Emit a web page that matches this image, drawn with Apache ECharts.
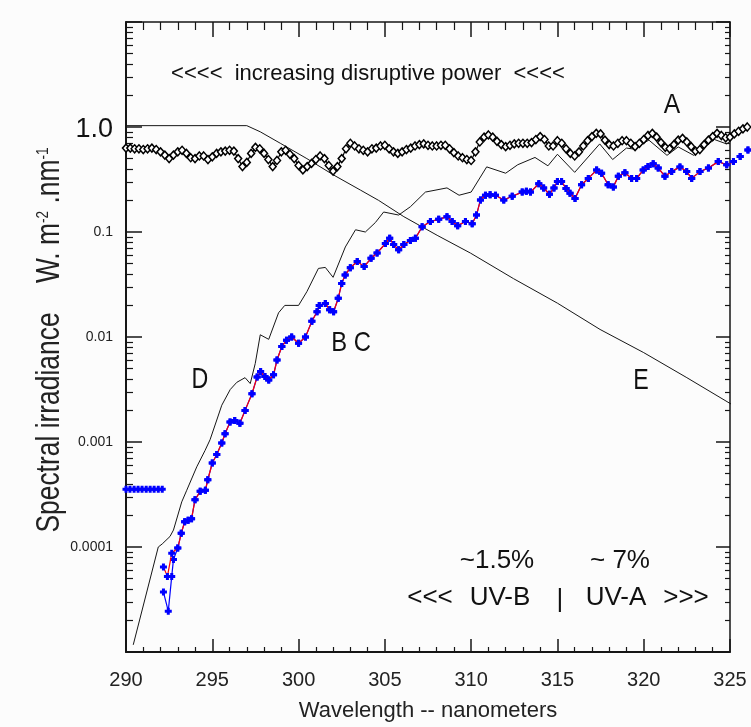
<!DOCTYPE html>
<html>
<head>
<meta charset="utf-8">
<script src="https://cdn.jsdelivr.net/npm/echarts@6/dist/echarts.min.js"></script>
<style>
  html, body { margin: 0; padding: 0; background: #fcfcfc; }
  #chart { width: 751px; height: 727px; }
</style>
</head>
<body>
<div id="chart"></div>
<script>
// ---- axes ----
const xMin = 290, xMax = 325, xStep = 5;           // wavelength, nm
const yMin = 1e-5, yMax = 10;                      // irradiance, log scale
const yTickLabels = { '-4': '0.0001', '-3': '0.001', '-2': '0.01', '-1': '0.1', '0': '1.0' };

// ---- A : extraterrestrial spectrum (diamond markers) ----
const curveA = [
  [290.00,0.63],[290.25,0.63],[290.50,0.62],[290.75,0.62],[291.00,0.61],[291.25,0.62],[291.50,0.63],[291.75,0.61],
  [292.00,0.58],[292.25,0.54],[292.50,0.50],[292.75,0.54],[293.00,0.58],[293.25,0.60],[293.50,0.56],[293.75,0.51],
  [294.00,0.50],[294.25,0.53],[294.50,0.53],[294.75,0.49],[295.00,0.52],[295.25,0.56],[295.50,0.58],[295.75,0.59],
  [296.00,0.60],[296.25,0.59],[296.50,0.50],[296.75,0.42],[297.00,0.46],[297.25,0.56],[297.50,0.64],[297.75,0.62],
  [298.00,0.56],[298.25,0.49],[298.50,0.42],[298.75,0.48],[299.00,0.58],[299.25,0.60],[299.50,0.55],[299.75,0.50],
  [300.00,0.43],[300.25,0.39],[300.50,0.42],[300.75,0.45],[301.00,0.49],[301.25,0.53],[301.50,0.50],[301.75,0.43],
  [302.00,0.38],[302.25,0.42],[302.50,0.50],[302.75,0.62],[303.00,0.70],[303.25,0.66],[303.50,0.62],[303.75,0.60],
  [304.00,0.58],[304.25,0.62],[304.50,0.63],[304.75,0.66],[305.00,0.67],[305.25,0.62],[305.50,0.58],[305.75,0.56],
  [306.00,0.58],[306.25,0.61],[306.50,0.63],[306.75,0.66],[307.00,0.68],[307.25,0.69],[307.50,0.67],[307.75,0.66],
  [308.00,0.66],[308.25,0.67],[308.50,0.67],[308.75,0.62],[309.00,0.57],[309.25,0.53],[309.50,0.51],[309.75,0.49],
  [310.00,0.48],[310.25,0.58],[310.50,0.72],[310.75,0.80],[311.00,0.84],[311.25,0.80],[311.50,0.73],[311.75,0.68],
  [312.00,0.65],[312.25,0.67],[312.50,0.69],[312.75,0.70],[313.00,0.70],[313.25,0.70],[313.50,0.71],[313.75,0.76],
  [314.00,0.81],[314.25,0.76],[314.50,0.66],[314.75,0.66],[315.00,0.74],[315.25,0.70],[315.50,0.62],[315.75,0.56],
  [316.00,0.53],[316.25,0.58],[316.50,0.66],[316.75,0.74],[317.00,0.81],[317.25,0.87],[317.50,0.86],[317.75,0.75],
  [318.00,0.68],[318.25,0.66],[318.50,0.70],[318.75,0.74],[319.00,0.74],[319.25,0.70],[319.50,0.65],[319.75,0.70],
  [320.00,0.76],[320.25,0.83],[320.50,0.87],[320.75,0.80],[321.00,0.71],[321.25,0.64],[321.50,0.62],[321.75,0.68],
  [322.00,0.75],[322.25,0.78],[322.50,0.72],[322.75,0.65],[323.00,0.59],[323.25,0.61],[323.50,0.68],[323.75,0.75],
  [324.00,0.81],[324.25,0.87],[324.50,0.83],[324.75,0.79],[325.00,0.80],[325.25,0.86],[325.50,0.91],[325.75,0.96],
  [326.00,1.00]
];

// ---- D : thin black spectrum ----
const curveD = [
  [290.42,1.17e-5],[291.87,1.0e-4],[292.1,1.07e-4],[292.55,1.26e-4],[292.75,1.45e-4],[293.23,2.69e-4],
  [293.52,3.47e-4],[294.1,5.8e-4],[294.58,8.3e-4],[294.87,1.05e-3],[295.26,1.62e-3],[295.55,2.24e-3],
  [296.04,3.16e-3],[296.42,3.7e-3],[296.9,4.1e-3],[297.2,3.6e-3],[297.49,5.6e-3],[297.78,0.0105],
  [298.27,0.0095],[298.84,0.017],[299.2,0.020],[300.0,0.020],[300.48,0.027],[301.15,0.045],[301.55,0.046],
  [302.0,0.037],[302.71,0.072],[303.3,0.105],[303.87,0.100],[304.45,0.123],[304.93,0.155],[305.8,0.145],
  [306.48,0.174],[307.35,0.24],[308.6,0.263],[309.3,0.224],[310.0,0.24],[310.9,0.417],[312.0,0.363],
  [312.7,0.437],[313.7,0.513],[314.45,0.427],[315.0,0.55],[316.0,0.37],[317.45,0.69],[318.2,0.49],
  [319.0,0.63],[319.4,0.617],[320.3,0.75],[321.35,0.537],[322.0,0.646],[322.9,0.537],[324.1,0.76],
  [324.8,0.69],[326.05,1.0]
];

// ---- E : action spectrum (straight black line) ----
const curveE = [
  [290,1.03],[297.0,1.03],[297.78,0.90],[298.94,0.70],[300.48,0.50],[302.03,0.349],[303.58,0.251],
  [304.64,0.20],[306.1,0.14],[308.03,0.093],[309.96,0.063],[312.45,0.036],[315,0.021],[317.47,0.0118],
  [320,0.0071],[322.5,0.0041],[325.46,0.0021],[325.9,0.0019]
];

// ---- B (blue) and C (red) : they share everything above 293 nm ----
const curveBStart = [[292.17,3.72e-5],[292.45,2.45e-5],[292.65,5.25e-5],[292.75,7.59e-5]];
const curveCStart = [[292.17,6.46e-5],[292.4,5.25e-5],[292.65,8.71e-5]];
const curveBC = [
  [293.0,9.77e-5],[293.2,1.35e-4],[293.4,1.74e-4],[293.6,1.80e-4],[293.8,1.86e-4],[294.0,2.82e-4],
  [294.3,3.39e-4],[294.6,3.47e-4],[294.74,4.37e-4],[295.0,6.31e-4],[295.26,7.59e-4],[295.55,9.77e-4],
  [295.74,1.2e-3],[296.03,1.55e-3],[296.3,1.6e-3],[296.6,1.51e-3],[296.9,2.0e-3],[297.3,2.88e-3],
  [297.6,4.17e-3],[297.8,4.68e-3],[298.05,4.2e-3],[298.27,3.89e-3],[298.55,4.37e-3],[298.75,6.03e-3],
  [299.03,8.13e-3],[299.3,9.3e-3],[299.6,0.0100],[300.0,8.71e-3],[300.4,0.0100],[300.77,0.0141],
  [301.07,0.0174],[301.2,0.0200],[301.55,0.0209],[301.8,0.0182],[302.03,0.0174],[302.3,0.0234],
  [302.5,0.0324],[302.7,0.0389],[303.0,0.0457],[303.4,0.0525],[303.8,0.0468],[304.2,0.0562],
  [304.55,0.0631],[305.03,0.0776],[305.28,0.0871],[305.51,0.0759],[305.8,0.0676],[306.1,0.0759],
  [306.48,0.0832],[306.77,0.0871],[307.16,0.112],[307.64,0.126],[308.12,0.132],[308.6,0.140],
  [308.9,0.126],[309.22,0.115],[309.67,0.126],[310.06,0.120],[310.31,0.145],[310.54,0.202],
  [310.83,0.224],[311.1,0.226],[311.41,0.224],[311.89,0.202],[312.38,0.219],[312.96,0.240],
  [313.2,0.245],[313.44,0.240],[313.92,0.288],[314.2,0.263],[314.54,0.229],[314.8,0.263],
  [315.0,0.302],[315.24,0.302],[315.5,0.260],[315.73,0.234],[316.02,0.209],[316.4,0.282],
  [316.79,0.324],[317.27,0.389],[317.56,0.363],[317.94,0.282],[318.24,0.269],[318.53,0.339],
  [318.91,0.367],[319.3,0.324],[319.59,0.324],[319.97,0.389],[320.25,0.420],[320.55,0.447],
  [320.84,0.407],[321.23,0.339],[321.62,0.376],[322.1,0.417],[322.49,0.376],[322.78,0.324],
  [323.26,0.376],[323.75,0.407],[324.32,0.468],[324.81,0.437],[325.2,0.468],[325.59,0.525],
  [326.04,0.603]
];
// detection floor plotted at the short end
const floorBC = [
  [290.0,3.55e-4],[290.23,3.55e-4],[290.47,3.55e-4],[290.7,3.55e-4],[290.93,3.55e-4],
  [291.17,3.55e-4],[291.4,3.55e-4],[291.63,3.55e-4],[291.87,3.55e-4],[292.1,3.55e-4]
];

const FONT = '"Liberation Sans", Arial, Helvetica, sans-serif';
const INK = '#161616';
const BLUE = '#0000ff';
const RED = '#ff0000';
const PLUS = 'path://M2,0H5V2H7V5H5V7H2V5H0V2H2Z';

function xAxisCfg(position, majorLen, minorLen, lineW, showLabel) {
  return {
    type: 'value', position, min: xMin, max: xMax, interval: xStep,
    axisLine: { show: true, onZero: false, lineStyle: { color: INK, width: lineW } },
    axisTick: { show: true, inside: true, length: majorLen, lineStyle: { color: INK, width: 1.5 } },
    minorTick: { show: true, splitNumber: 5, length: minorLen, lineStyle: { color: INK, width: 1.2 } },
    splitLine: { show: false },
    axisLabel: { show: showLabel, fontSize: 20, fontFamily: FONT, color: '#222', margin: 18 }
  };
}
function yAxisCfg(position, majorLen, minorLen, lineW, showLabel) {
  return {
    type: 'log', logBase: 10, position, min: yMin, max: yMax,
    axisLine: { show: true, onZero: false, lineStyle: { color: INK, width: lineW } },
    axisTick: { show: true, inside: true, length: majorLen, lineStyle: { color: INK, width: 1.5 } },
    minorTick: { show: true, splitNumber: 9, length: minorLen, lineStyle: { color: INK, width: 1.2 } },
    splitLine: { show: false },
    axisLabel: {
      show: showLabel, margin: 13, fontSize: 14, fontFamily: FONT, color: '#222',
      formatter: v => {
        const k = String(Math.round(Math.log10(v)));
        if (!(k in yTickLabels)) return '';
        return k === '0' ? '{big|' + yTickLabels[k] + '}' : yTickLabels[k];
      },
      rich: { big: { fontSize: 27, fontFamily: FONT, color: '#111', padding: [6, 0, 0, 0] } }
    }
  };
}

function label(text, x, y, size, sx) {
  return {
    type: 'text', x, y, scaleX: sx || 1, silent: true, z: 100,
    style: { text, fontSize: size, fontFamily: FONT, fill: '#111', align: 'center', verticalAlign: 'middle' }
  };
}

const chart = echarts.init(document.getElementById('chart'));
chart.setOption({
  backgroundColor: '#fcfcfc',
  animation: false,
  grid: { left: 126, right: 21, top: 22, bottom: 75, containLabel: false },
  xAxis: [
    Object.assign(xAxisCfg('bottom', 13, 5, 2, true), {
      name: 'Wavelength -- nanometers', nameLocation: 'middle', nameGap: 48,
      nameTextStyle: { fontSize: 22, fontFamily: FONT, color: '#222' }
    }),
    xAxisCfg('top', 15, 8, 1.5, false)
  ],
  yAxis: [
    yAxisCfg('left', 16, 7, 2, true),
    yAxisCfg('right', 14, 5, 1.5, false)
  ],
  series: [
    { type: 'line', name: 'E', data: curveE, symbol: 'none', clip: false, z: 2,
      lineStyle: { color: INK, width: 1 } },
    { type: 'line', name: 'D', data: curveD, symbol: 'none', clip: false, z: 2,
      lineStyle: { color: INK, width: 1 } },
    { type: 'line', name: 'A', data: curveA, symbol: 'diamond', symbolSize: [7, 8], showAllSymbol: true,
      clip: false, z: 3, lineStyle: { color: '#000', width: 1.2 },
      itemStyle: { color: '#fff', borderColor: '#000', borderWidth: 1.5 } },
    { type: 'line', name: 'B', data: curveBStart.concat(curveBC), symbol: PLUS, symbolSize: 7, showAllSymbol: true,
      clip: false, z: 4, lineStyle: { color: BLUE, width: 1.2 },
      itemStyle: { color: BLUE, borderWidth: 0 } },
    { type: 'line', name: 'C', data: curveCStart.concat(curveBC), symbol: PLUS, symbolSize: 7, showAllSymbol: true,
      clip: false, z: 5, lineStyle: { color: RED, width: 1.2 },
      itemStyle: { color: BLUE, borderWidth: 0 } },
    { type: 'line', name: 'floor', data: floorBC, symbol: PLUS, symbolSize: 7, showAllSymbol: true,
      clip: false, z: 5, lineStyle: { color: RED, width: 1.2 },
      itemStyle: { color: BLUE, borderWidth: 0 } }
  ],
  graphic: [
    label('<<<<  increasing disruptive power  <<<<', 368, 74, 22, 1),
    label('A', 672, 105, 28, 0.88),
    label('B C', 351, 343, 28, 0.85),
    label('D', 200, 380, 29, 0.8),
    label('E', 641, 381, 29, 0.8),
    label('~1.5%', 497, 561, 26, 1),
    label('~ 7%', 620, 561, 26, 1),
    label('<<<', 430, 598, 26, 1),
    label('UV-B', 500, 598, 26, 1),
    label('|', 560, 600, 26, 1),
    label('UV-A', 616, 598, 26, 1),
    label('>>>', 686, 598, 26, 1),
    {
      type: 'text', x: 50, y: 340, rotation: Math.PI / 2, scaleX: 0.8, silent: true, z: 100,
      style: {
        text: 'Spectral irradiance    W. m{sup|-2} .nm{sup|-1}',
        fontSize: 33, fontFamily: FONT, fill: '#222', align: 'center', verticalAlign: 'middle',
        rich: { sup: { fontSize: 17, fontFamily: FONT, fill: '#222', padding: [0, 0, 14, 0] } }
      }
    }
  ]
});
</script>
</body>
</html>
